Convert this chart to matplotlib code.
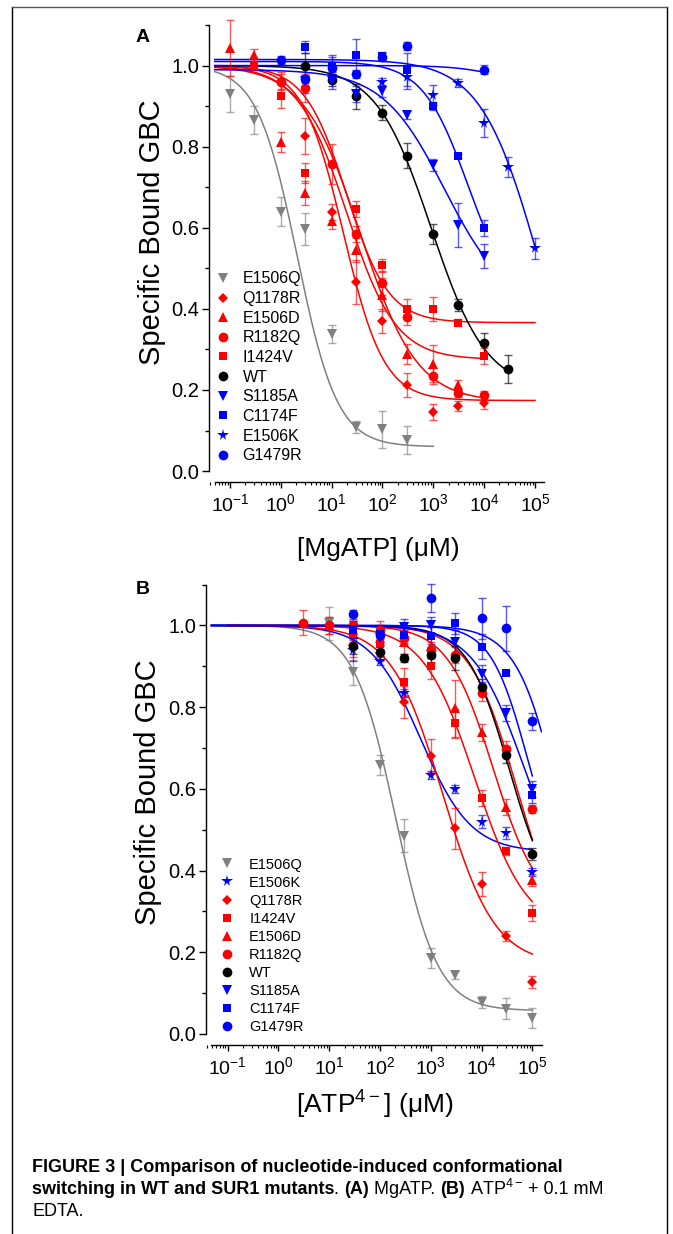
import numpy as np
import matplotlib
matplotlib.use("Agg")
import matplotlib.pyplot as plt
from matplotlib import font_manager as fm
from matplotlib.lines import Line2D
from matplotlib.ticker import FixedLocator, LogLocator, NullFormatter

plt.rcParams['font.family'] = ['Liberation Sans', 'DejaVu Sans']
plt.rcParams['mathtext.fontset'] = 'custom'
plt.rcParams['mathtext.rm'] = 'Liberation Sans'
plt.rcParams['mathtext.bf'] = 'Liberation Sans:bold'


def pick_font(name, alt):
    try:
        fm.findfont(fm.FontProperties(family=name), fallback_to_default=False)
        return name
    except ValueError:
        return alt


NARROW = pick_font('Liberation Sans Narrow', 'Liberation Sans')

RED = '#ff0000'
BLUE = '#0000ff'
GRAY = '#808080'

# ---------------- panel A : MgATP ----------------
A_names = ['E1506Q', 'Q1178R', 'E1506D', 'R1182Q', 'I1424V', 'WT', 'S1185A', 'C1174F', 'E1506K', 'G1479R']
A_x = [
    [0.1, 0.3, 1, 3, 10, 30, 100, 300],
    [1, 3, 10, 30, 100, 300, 1000, 3000, 1e4],
    [0.1, 0.3, 1, 3, 10, 30, 100, 300, 1000, 3000],
    [1, 3, 10, 30, 100, 300, 1000, 3000, 1e4],
    [0.3, 1, 3, 30, 100, 300, 1000, 3000, 1e4],
    [3, 10, 30, 100, 300, 1000, 3000, 1e4, 3e4],
    [3, 10, 30, 100, 300, 1000, 3000, 1e4],
    [3, 10, 30, 100, 300, 1000, 3000, 1e4],
    [100, 300, 1000, 3000, 1e4, 3e4, 1e5],
    [1, 3, 10, 30, 100, 300, 1e4],
]
A_y = [
    [0.93, 0.865, 0.64, 0.597, 0.339, 0.108, 0.103, 0.077],
    [0.963, 0.826, 0.639, 0.466, 0.370, 0.212, 0.145, 0.161, 0.168],
    [1.043, 1.025, 0.811, 0.686, 0.616, 0.545, 0.435, 0.288, 0.265, 0.212],
    [0.96, 0.944, 0.757, 0.585, 0.464, 0.379, 0.235, 0.193, 0.187],
    [1.0, 0.925, 0.735, 0.647, 0.507, 0.40, 0.40, 0.366, 0.284],
    [1.0, 0.965, 0.924, 0.884, 0.778, 0.584, 0.409, 0.315, 0.252],
    [0.963, 0.963, 0.93, 0.938, 0.878, 0.754, 0.607, 0.531],
    [1.045, 1.0, 1.026, 1.024, 0.99, 0.90, 0.778, 0.60],
    [0.959, 0.971, 0.928, 0.958, 0.858, 0.749, 0.549],
    [1.013, 0.967, 0.995, 0.98, 1.02, 1.049, 0.99],
]
A_err = [
    [0.045, 0.035, 0.035, 0.04, 0.022, 0.015, 0.045, 0.035],
    [0.02, 0.045, 0.02, 0.055, 0.03, 0.03, 0.02, 0.012, 0.015],
    [0.07, 0.015, 0.025, 0.03, 0.02, 0.03, 0.04, 0.025, 0.045, 0.012],
    [0.02, 0.035, 0.05, 0.02, 0.03, 0.02, 0.02, 0.01, 0.01],
    [0.01, 0.03, 0.025, 0.02, 0.015, 0.025, 0.03, 0.008, 0.02],
    [0.03, 0.015, 0.03, 0.018, 0.03, 0.025, 0.015, 0.025, 0.035],
    [0.03, 0.02, 0.02, 0.015, 0.01, 0.015, 0.055, 0.03],
    [0.015, 0.02, 0.04, 0.01, 0.04, 0.01, 0.005, 0.02],
    [0.01, 0.03, 0.025, 0.01, 0.035, 0.025, 0.025],
    [0.01, 0.01, 0.03, 0.01, 0.01, 0.01, 0.012],
]
# logistic fits: top, bottom, IC50, Hill slope, last x
A_top = [1.0, 1.0, 1.0, 1.0, 1.0, 1.0, 0.99, 1.01, 1.015, 1.0]
A_bottom = [0.06, 0.174, 0.275, 0.17, 0.366, 0.2, 0.4, 0.4, 0.0, 0.95]
A_ic50 = [2.1, 17, 19.7, 36.7, 19.6, 905, 1660, 4800, 1.27e5, 2e4]
A_hill = [1.1, 1.09, 0.9, 0.78, 1.05, 0.8, 0.71, 0.97, 0.75, 1.0]
A_xend = [1000, 1e5, 1e4, 1e4, 1e5, 3e4, 1e4, 1e4, 1e5, 1e4]

# ---------------- panel B : ATP4- ----------------
B_names = ['E1506Q', 'E1506K', 'Q1178R', 'I1424V', 'E1506D', 'R1182Q', 'WT', 'S1185A', 'C1174F', 'G1479R']
B_x = [
    [10, 30, 100, 300, 1000, 3000, 1e4, 3e4, 1e5],
    [30, 100, 300, 1000, 3000, 1e4, 3e4, 1e5],
    [30, 100, 300, 1000, 3000, 1e4, 3e4, 1e5],
    [30, 100, 300, 1000, 3000, 1e4, 3e4, 1e5],
    [10, 30, 100, 300, 1000, 3000, 1e4, 3e4, 1e5],
    [3, 10, 30, 100, 300, 1000, 3000, 1e4, 3e4, 1e5],
    [30, 100, 300, 1000, 3000, 1e4, 3e4, 1e5],
    [30, 100, 300, 1000, 3000, 1e4, 3e4, 1e5],
    [30, 100, 300, 1000, 3000, 1e4, 3e4, 1e5],
    [30, 100, 1000, 1e4, 3e4, 1e5],
]
B_y = [
    [1.005, 0.885, 0.659, 0.485, 0.186, 0.144, 0.078, 0.062, 0.039],
    [0.939, 0.912, 0.835, 0.634, 0.599, 0.52, 0.492, 0.396],
    [0.952, 0.932, 0.813, 0.681, 0.504, 0.367, 0.239, 0.127],
    [0.98, 0.955, 0.862, 0.90, 0.76, 0.577, 0.447, 0.296],
    [1.0, 0.99, 0.97, 0.96, 0.95, 0.797, 0.738, 0.555, 0.376],
    [1.007, 1.0, 1.0, 0.99, 0.97, 0.94, 0.928, 0.835, 0.698, 0.55],
    [0.95, 0.935, 0.92, 0.928, 0.92, 0.85, 0.684, 0.441],
    [0.99, 0.97, 0.995, 1.0, 0.96, 0.882, 0.786, 0.60],
    [0.99, 0.98, 0.977, 0.975, 1.005, 0.948, 0.884, 0.585],
    [1.027, 0.977, 1.067, 1.018, 0.993, 0.765],
]
B_err = [
    [0.04, 0.03, 0.025, 0.04, 0.025, 0.01, 0.015, 0.025, 0.025],
    [0.025, 0.01, 0.01, 0.01, 0.01, 0.015, 0.015, 0.01],
    [0.03, 0.02, 0.04, 0.04, 0.05, 0.03, 0.012, 0.015],
    [0.02, 0.03, 0.035, 0.03, 0.035, 0.02, 0.01, 0.02],
    [0.02, 0.02, 0.02, 0.03, 0.03, 0.07, 0.02, 0.02, 0.015],
    [0.03, 0.02, 0.02, 0.02, 0.02, 0.02, 0.02, 0.02, 0.02, 0.01],
    [0.02, 0.02, 0.01, 0.02, 0.03, 0.02, 0.02, 0.015],
    [0.02, 0.02, 0.02, 0.02, 0.03, 0.02, 0.02, 0.02],
    [0.02, 0.02, 0.02, 0.02, 0.025, 0.03, 0.005, 0.02],
    [0.01, 0.01, 0.035, 0.05, 0.055, 0.02],
]
B_top = [1.0] * 10
B_bottom = [0.057, 0.445, 0.17, 0.25, 0.3, 0.2, 0.3, 0.3, 0.35, 0.0]
B_ic50 = [204, 630, 1740, 7400, 16900, 50000, 34700, 70000, 80000, 4.3e5]
B_hill = [1.05, 0.88, 0.85, 0.85, 0.97, 0.92, 1.05, 0.85, 1.2, 1.0]
B_xend = [1e5, 1e5, 1e5, 1e5, 1e5, 1e5, 1e5, 1e5, 1e5, 10 ** 5.18]

STYLE = {
    'E1506Q': ('v', GRAY, 7), 'Q1178R': ('D', RED, 5.5), 'E1506D': ('^', RED, 7),
    'R1182Q': ('o', RED, 7), 'I1424V': ('s', RED, 6), 'WT': ('o', 'k', 7),
    'S1185A': ('v', BLUE, 7), 'C1174F': ('s', BLUE, 6), 'E1506K': ('*', BLUE, 8.5),
    'G1479R': ('o', BLUE, 7),
}

W, H = 673, 1234
fig = plt.figure(figsize=(W / 100, H / 100), dpi=100)


def px_box(left, right, top, bottom):
    return [left / W, 1 - bottom / H, (right - left) / W, (bottom - top) / H]


def draw_panel(ax, names, xs, ys, errs, tops, bots, ics, hills, xends, xlim, xstart, red_start):
    for i, nm in enumerate(names):
        mk, col, ms = STYLE[nm]
        x0 = red_start if col == RED else xstart
        xc = np.logspace(np.log10(x0), np.log10(xends[i]), 300)
        yc = bots[i] + (tops[i] - bots[i]) / (1 + (xc / ics[i]) ** hills[i])
        ax.plot(xc, yc, color=col, lw=1.1, zorder=2)
    handles = []
    for i, nm in enumerate(names):
        mk, col, ms = STYLE[nm]
        ax.errorbar(xs[i], ys[i], yerr=errs[i], fmt='none', ecolor=col, alpha=0.65,
                    elinewidth=1, capsize=3, capthick=1, zorder=3, clip_on=False)
        h, = ax.plot(xs[i], ys[i], ls='none', marker=mk, color=col, ms=ms,
                     markeredgewidth=0, zorder=4, clip_on=False, label=nm)
        handles.append(h)
    ax.set_xscale('log')
    ax.set_xlim(*xlim)
    ax.set_ylim(-0.027, 1.1)
    for s in ['top', 'right']:
        ax.spines[s].set_visible(False)
    ax.spines['left'].set_bounds(0, 1.1)
    ax.spines['bottom'].set_bounds(xstart, xlim[1])
    ax.yaxis.set_major_locator(FixedLocator([0, 0.2, 0.4, 0.6, 0.8, 1.0]))
    ax.yaxis.set_minor_locator(FixedLocator([0.1, 0.3, 0.5, 0.7, 0.9, 1.1]))
    ax.set_yticklabels(['0.0', '0.2', '0.4', '0.6', '0.8', '1.0'], fontsize=14.5)
    dec = [0.1, 1, 10, 100, 1000, 1e4, 1e5]
    ax.xaxis.set_major_locator(FixedLocator(dec))
    ax.xaxis.set_minor_locator(LogLocator(base=10, subs=np.arange(2, 10), numticks=20))
    ax.xaxis.set_minor_formatter(NullFormatter())
    ax.set_xticklabels([r'$\mathregular{10^{%d}}$' % p for p in range(-1, 6)],
                       fontsize=14, fontfamily=NARROW)
    ax.tick_params(axis='y', which='major', length=5, width=1, pad=2)
    ax.tick_params(axis='y', which='minor', length=3, width=1)
    ax.tick_params(axis='x', which='major', length=4, width=1, pad=4)
    ax.tick_params(axis='x', which='minor', length=2.5, width=0.8)
    for s in ['left', 'bottom']:
        ax.spines[s].set_linewidth(1)
    return handles


axA = fig.add_axes(px_box(209, 544, 25, 482))
hA = draw_panel(axA, A_names, A_x, A_y, A_err, A_top, A_bottom, A_ic50, A_hill, A_xend,
                (10 ** -1.413, 10 ** 5.177), 10 ** -1.3, 10 ** -1.3)
axA.legend(handles=hA, loc='upper left', bbox_to_anchor=(214.7 / W, 1 - 271.5 / H),
           bbox_transform=fig.transFigure, frameon=False, fontsize=11.5, borderpad=0,
           borderaxespad=0, handlelength=1.0, handletextpad=0.75, labelspacing=0.29)

axB = fig.add_axes(px_box(206, 542, 584.6, 1045))
hB = draw_panel(axB, B_names, B_x, B_y, B_err, B_top, B_bottom, B_ic50, B_hill, B_xend,
                (10 ** -1.427, 10 ** 5.19), 10 ** -1.32, 0.1)
axB.legend(handles=hB, loc='upper left', bbox_to_anchor=(220 / W, 1 - 857.5 / H),
           bbox_transform=fig.transFigure, frameon=False, fontsize=10.5, borderpad=0,
           borderaxespad=0, handlelength=1.0, handletextpad=1.0, labelspacing=0.28)

# axis titles
fig.text(152 / W, 1 - 232 / H, 'Specific Bound GBC', rotation=90, ha='center', va='center', fontsize=21)
fig.text(148 / W, 1 - 792 / H, 'Specific Bound GBC', rotation=90, ha='center', va='center', fontsize=21)
fig.text(378 / W, 1 - 549 / H, '[MgATP] (\u03bcM)', ha='center', va='center', fontsize=19)
fig.text(375 / W, 1 - 1104 / H, '[ATP$^{\\mathregular{4-}}$] (\u03bcM)', ha='center', va='center', fontsize=19)
fig.text(143 / W, 1 - 38 / H, 'A', ha='center', va='center', fontsize=14, fontweight='bold')
fig.text(143 / W, 1 - 590 / H, 'B', ha='center', va='center', fontsize=14, fontweight='bold')

# frame
fig.add_artist(Line2D([12 / W, 12 / W], [0, 1 - 7 / H], color='k', lw=1, transform=fig.transFigure))
fig.add_artist(Line2D([667 / W, 667 / W], [0, 1 - 7 / H], color='k', lw=1, transform=fig.transFigure))
fig.add_artist(Line2D([12 / W, 667 / W], [1 - 7 / H, 1 - 7 / H], color='#555555', lw=1, transform=fig.transFigure))

# caption with mixed bold / regular runs
renderer = fig.canvas.get_renderer()
cap_size = 13
cap_lines = [
    [('FIGURE 3 | Comparison of nucleotide-induced conformational', 'bold')],
    [('switching in WT and SUR1 mutants', 'bold'), ('. ', 'normal'), ('(A)', 'bold'),
     (' MgATP. ', 'normal'), ('(B)', 'bold'), (' ATP$^{\\mathregular{4-}}$', 'normal'),
     (' + 0.1 mM', 'normal')],
    [('EDTA.', 'normal')],
]
cap_y = [1167, 1189, 1211]
for parts, yy in zip(cap_lines, cap_y):
    x = 32 / W
    for txt, wt in parts:
        t = fig.text(x, 1 - yy / H, txt, fontsize=cap_size, fontweight=wt, fontfamily=NARROW,
                     ha='left', va='center')
        bb = t.get_window_extent(renderer)
        x += bb.width / W

fig.savefig('out.png', dpi=100)
